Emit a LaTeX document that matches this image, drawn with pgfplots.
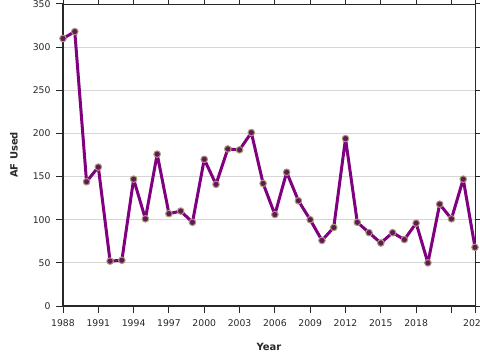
\documentclass[border=0pt]{standalone}
\usepackage{fontspec}
\setmainfont{DejaVu Sans}
\usepackage{pgfplots}
\pgfplotsset{compat=1.18}
\definecolor{lineP}{RGB}{128,0,128}
\definecolor{markF}{RGB}{100,25,85}
\definecolor{markE}{RGB}{170,155,120}
\definecolor{gridC}{RGB}{214,214,214}
\definecolor{axC}{RGB}{40,40,40}
\begin{document}
\begin{tikzpicture}
\begin{axis}[
  at={(63bp,54bp)}, anchor=south west,
  scale only axis, width=412bp, height=302bp,
  xmin=1988, xmax=2023, ymin=0, ymax=350,
  xtick={1988,1991,1994,1997,2000,2003,2006,2009,2012,2015,2018,2021,2023},
  xticklabels={1988,1991,1994,1997,2000,2003,2006,2009,2012,2015,2018,,2023},
  ytick={0,50,...,350},
  ymajorgrids, grid style={gridC, line width=0.8bp},
  tick align=outside, major tick length=7bp,
  tick style={axC, line width=1bp},
  axis line style={axC, line width=0.8bp},
  /pgf/number format/assume math mode=true,
  ticklabel style={font=\fontsize{9.3}{11}\selectfont, text=axC},
  xticklabel style={yshift=-3bp},
  yticklabel style={xshift=-2bp},
  xlabel={\textbf{Year}}, ylabel={\textbf{AF Used}},
  label style={font=\fontsize{10}{12}\selectfont, text=axC},
  xlabel style={at={(rel axis cs:0.5,0)}, anchor=center, yshift=-41bp},
  ylabel style={at={(rel axis cs:0,0.5)}, anchor=center, yshift=49bp},
  clip=false,
]
\addplot[lineP, line width=3bp, line join=round, mark=*, mark size=3.3bp,
  mark options={fill=markF, draw=markE, line width=1bp}] coordinates {
(1988,310) (1989,318) (1990,144) (1991,161) (1992,52) (1993,53)
(1994,147) (1995,101) (1996,176) (1997,107) (1998,110) (1999,97)
(2000,170) (2001,141) (2002,182) (2003,181) (2004,201) (2005,142)
(2006,106) (2007,155) (2008,122) (2009,100) (2010,76) (2011,91)
(2012,194) (2013,97) (2014,85) (2015,73) (2016,85) (2017,77)
(2018,96) (2019,50) (2020,118) (2021,101) (2022,147) (2023,68)
};
\draw[axC, line width=2.5bp] (rel axis cs:0,1) -- (rel axis cs:0,0) -- (rel axis cs:1,0);
\end{axis}
\pgfresetboundingbox
\useasboundingbox (0,0) rectangle (480bp,360bp);
\end{tikzpicture}
\end{document}
